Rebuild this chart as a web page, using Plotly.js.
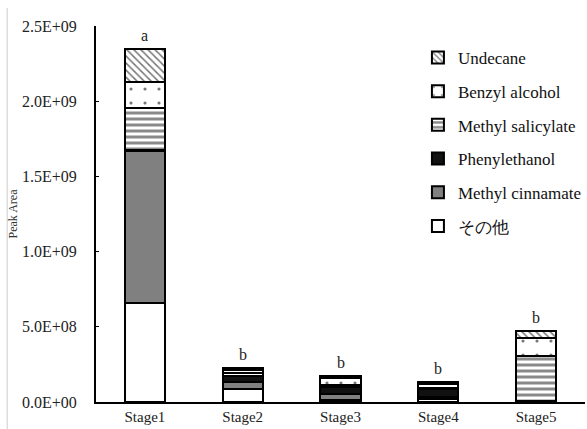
<!DOCTYPE html>
<html>
<head>
<meta charset="utf-8">
<script src="https://cdn.plot.ly/plotly-3.0.1.min.js"></script>
<style>html,body{margin:0;padding:0;background:#fff;}#chart{width:587px;height:429px;}</style>
</head>
<body>
<div id="chart"></div>
<script>
// ---- data ----
const stages = ['Stage1', 'Stage2', 'Stage3', 'Stage4', 'Stage5'];
const other            = [0.660e9, 0.085e9, 0.012e9, 0.020e9, 0.003e9];
const methylCinnamate  = [1.010e9, 0.050e9, 0.040e9, 0.010e9, 0.002e9];
const phenylethanol    = [0.005e9, 0.035e9, 0.050e9, 0.055e9, 0.002e9];
const methylSalicylate = [0.280e9, 0.020e9, 0.012e9, 0.010e9, 0.300e9];
const benzylAlcohol    = [0.175e9, 0.020e9, 0.045e9, 0.025e9, 0.118e9];
const undecane         = [0.217e9, 0.018e9, 0.016e9, 0.011e9, 0.044e9];
const seriesNames = ['その他', 'Methyl cinnamate', 'Phenylethanol', 'Methyl salicylate', 'Benzyl alcohol', 'Undecane'];
const sigLetters = ['a', 'b', 'b', 'b', 'b'];
const yTickVals = [0, 0.5e9, 1.0e9, 1.5e9, 2.0e9, 2.5e9];
const yTickText = ['0.0E+00', '5.0E+08', '1.0E+09', '1.5E+09', '2.0E+09', '2.5E+09'];

const seriesValues = [other, methylCinnamate, phenylethanol, methylSalicylate, benzylAlcohol, undecane];
const styles = [
  {color: '#ffffff', pattern: {shape: ''}},
  {color: '#808080', pattern: {shape: ''}},
  {color: '#111111', pattern: {shape: ''}},
  {color: '#ffffff', pattern: {shape: '-', bgcolor: '#ffffff', fgcolor: '#8a8a8a', size: 6, solidity: 0.5}},
  {color: '#ffffff', pattern: {shape: '.', bgcolor: '#ffffff', fgcolor: '#777777', size: 14, solidity: 0.04}},
  {color: '#ffffff', pattern: {shape: '\\', bgcolor: '#ffffff', fgcolor: '#777777', size: 5, solidity: 0.3}}
];

const FONT = '"Liberation Serif", serif';

const traces = seriesValues.map((vals, i) => ({
  type: 'bar',
  name: seriesNames[i],
  x: stages,
  y: vals,
  width: 0.41,
  legendgroup: 'g' + i,
  legendrank: 100 - i,
  marker: {
    color: styles[i].color,
    pattern: styles[i].pattern,
    line: {color: '#000000', width: 2}
  },
  hoverinfo: 'x+y+name'
}));

const totals = stages.map((s, j) => seriesValues.reduce((acc, arr) => acc + arr[j], 0));
const annotations = stages.map((s, j) => ({
  x: s, y: totals[j], xref: 'x', yref: 'y',
  text: sigLetters[j], showarrow: false,
  yanchor: 'bottom', yshift: 3,
  font: {family: FONT, size: 16, color: '#222'}
}));

const layout = {
  width: 587, height: 429,
  margin: {l: 96, r: 1, t: 26, b: 27, pad: 0},
  paper_bgcolor: '#ffffff', plot_bgcolor: '#ffffff',
  barmode: 'stack',
  bargap: 0.59,
  font: {family: FONT, size: 15, color: '#222'},
  showlegend: true,
  legend: {
    x: 0.657, y: 0.963, xanchor: 'left', yanchor: 'top',
    traceorder: 'grouped', tracegroupgap: 8.6,
    font: {family: FONT, size: 17, color: '#111'},
    bgcolor: 'rgba(0,0,0,0)', itemwidth: 30
  },
  xaxis: {
    showline: true, linecolor: '#000', linewidth: 2,
    ticks: '', showgrid: false, zeroline: false,
    tickfont: {family: FONT, size: 15, color: '#222'},
    fixedrange: true
  },
  yaxis: {
    range: [0, 2.5e9],
    tickvals: yTickVals, ticktext: yTickText,
    showline: true, linecolor: '#000', linewidth: 2,
    ticks: 'inside', ticklen: 3, tickwidth: 1, tickcolor: '#000',
    showgrid: false, zeroline: false,
    tickfont: {family: FONT, size: 16, color: '#222'},
    ticklabelstandoff: 14,
    title: {text: 'Peak Area', font: {family: FONT, size: 12, color: '#333'}, standoff: 2},
    fixedrange: true
  },
  annotations: annotations,
  shapes: [{
    type: 'line', xref: 'paper', yref: 'paper',
    x0: -0.1816, x1: -0.1816, y0: -0.0718, y1: 1.048,
    line: {color: '#cccccc', width: 1}
  }]
};

Plotly.newPlot('chart', traces, layout, {displayModeBar: false, staticPlot: true});
</script>
</body>
</html>
